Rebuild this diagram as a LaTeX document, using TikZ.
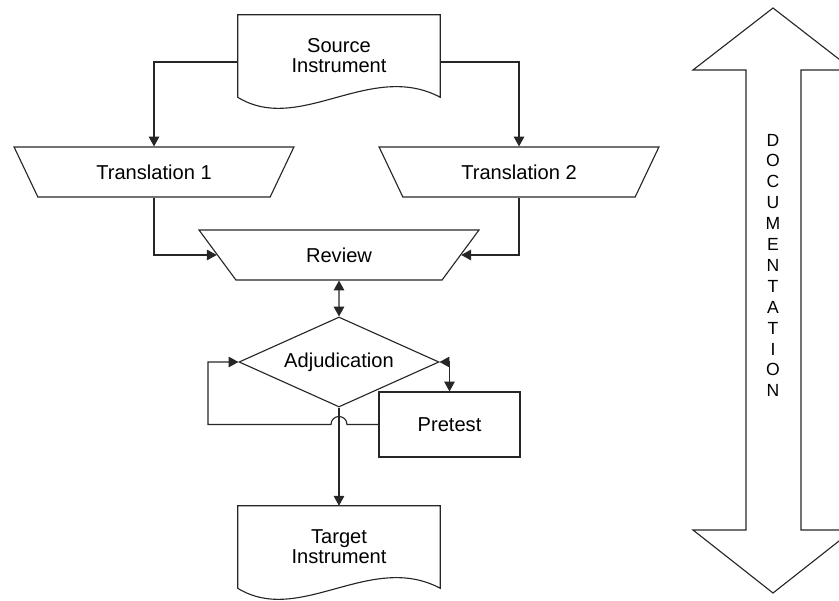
\documentclass[tikz,border=0pt]{standalone}
\usepackage{fontspec}
\setmainfont{Liberation Sans}
\usetikzlibrary{shapes.geometric, arrows.meta, positioning}

\tikzset{
  line/.style={draw=black!85, line width=0.8pt},
  arr/.style={line, -{Triangle[length=7pt,width=7.5pt]}},
  biarr/.style={line, {Triangle[length=7pt,width=7.5pt]}-{Triangle[length=7pt,width=7.5pt]}},
  docnode/.style={minimum width=5.05cm, minimum height=2.05cm, align=center, inner sep=0pt},
  manual/.style={line, trapezium, shape border rotate=180, trapezium angle=51.34,
    trapezium stretches=true, minimum width=7cm, minimum height=1.25cm, inner sep=0pt},
  decision/.style={line, diamond, aspect=2.2, minimum width=5cm, minimum height=2.25cm, inner sep=0pt},
  process/.style={line, rectangle, minimum width=3.525cm, minimum height=1.625cm},
}
\newcommand{\docframe}[1]{%
  \draw[line] (#1.south west) -- (#1.north west) -- (#1.north east) -- (#1.south east)
    .. controls +(-1.75,0.93) and +(1.55,-0.95) .. (#1.south west);}

\begin{document}
\begin{tikzpicture}[node distance=2cm, on grid, font=\fontsize{14.3}{14.2}\selectfont]
  \clip (0,0) rectangle (20.975,15);
  \node (src) [docnode] at (8.475,13.6) {Source\\Instrument};
  \docframe{src}
  \node (tr1) [manual, below left=2.9cm and 4.625cm of src] {Translation 1};
  \node (tr2) [manual, below right=2.9cm and 4.5cm of src] {Translation 2};
  \node (rev) [manual, below=4.975cm of src] {Review};
  \node (adj) [decision, below=2.675cm of rev] {Adjudication};
  \node (pre) [process, below right=1.5625cm and 2.7625cm of adj] {Pretest};
  \node (tgt) [docnode, below=4.625cm of adj] {Target\\Instrument};
  \docframe{tgt}

  \draw[arr] ([yshift=-0.15cm]src.west) -| (tr1.north);
  \draw[arr] ([yshift=-0.15cm]src.east) -| (tr2.north);
  \draw[arr] (tr1.south) |- (rev.west);
  \draw[arr] (tr2.south) |- (rev.east);
  \draw[biarr] (rev.south) -- (adj.north);
  \draw[biarr] (adj.east) -| (pre.north);
  % loop back from pretest, hopping over the vertical line
  \coordinate (hop) at (adj.south |- pre.west);
  \coordinate (back) at (5.2,0 |- pre.west);
  \draw[arr] (pre.west) -- ([xshift=0.2cm]hop) arc[start angle=0, end angle=180, radius=0.2cm]
    -- (back) |- (adj.west);
  \draw[arr] (adj.south) -- (tgt.north);

  % documentation arrow
  \draw[line] (19.325,14.8) -- (21.325,13.25) -- (20.025,13.25) -- (20.025,1.75)
    -- (21.325,1.75) -- (19.325,0.175) -- (17.325,1.75) -- (18.65,1.75)
    -- (18.65,13.25) -- (17.325,13.25) -- cycle;
  \foreach \ch [count=\i] in {D,O,C,U,M,E,N,T,A,T,I,O,N}
    \node (doc\i) [font=\fontsize{12.5}{12}\selectfont] at ({19.325},{12.0225-0.5225*\i}) {\ch};
\end{tikzpicture}
\end{document}
